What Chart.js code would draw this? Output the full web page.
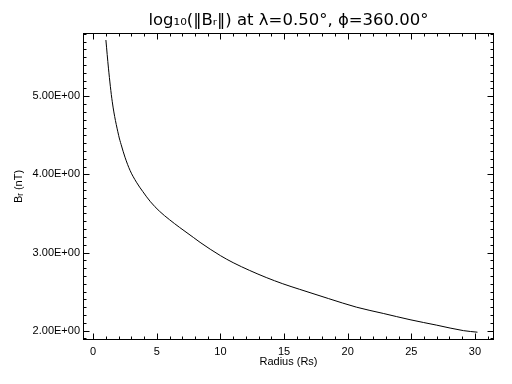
<!DOCTYPE html>
<html><head><meta charset="utf-8">
<script src="https://cdn.jsdelivr.net/npm/chart.js@4/dist/chart.umd.min.js"></script>
<style>html,body{margin:0;padding:0;background:#fff}#wrap{width:512px;height:384px}</style>
</head><body><div id="wrap"><canvas id="c" width="512" height="384"></canvas></div>
<script>
const radius = [1.0, 1.2, 1.5, 2.0, 2.2, 2.5, 2.9, 3.4, 3.9, 4.5, 5.2, 6.0, 6.8, 7.9, 8.4, 10.0, 11.0, 12.3, 13.6, 14.9, 16.2, 18.5, 20.7, 22.8, 24.9, 27.0, 29.1, 30.2];
const logBr = [5.72, 5.36, 4.93, 4.50, 4.38, 4.22, 4.05, 3.90, 3.78, 3.65, 3.53, 3.42, 3.32, 3.19, 3.13, 2.96, 2.87, 2.77, 2.68, 2.60, 2.53, 2.41, 2.30, 2.22, 2.14, 2.07, 2.00, 1.98];
const xTickValues = [0, 5, 10, 15, 20, 25, 30];
const xTickLabels = ["0", "5", "10", "15", "20", "25", "30"];
const yTickValues = [2, 3, 4, 5];
const yTickLabels = ["2.00E+00", "3.00E+00", "4.00E+00", "5.00E+00"];
const titleText = "log\u2081\u2080(\u2016B\u1D63\u2016) at \u03BB=0.50\u00B0, \u03D5=360.00\u00B0";
const xTitle = "Radius (Rs)";
const yTitle = "B\u1D63 (nT)";

const points = radius.map((r, i) => ({x: r, y: logBr[i]}));

const framePlugin = {
  id: 'frameTicks',
  afterDraw(chart) {
    const ctx = chart.ctx;
    const ca = chart.chartArea;
    const L = Math.round(ca.left) + 0.5, R = Math.round(ca.right) - 0.5;
    const T = Math.round(ca.top) + 0.5, B = Math.round(ca.bottom) - 0.5;
    ctx.save();
    ctx.strokeStyle = '#000';
    ctx.lineWidth = 1;
    ctx.strokeRect(L, T, R - L, B - T);
    const xs = chart.scales.x, ys = chart.scales.y;
    ctx.beginPath();
    for (let v = 0; v <= 31; v++) {
      const len = xTickValues.includes(v) ? 6 : 3;
      const p = Math.round(xs.getPixelForValue(v)) + 0.5;
      ctx.moveTo(p, B); ctx.lineTo(p, B - len);
      ctx.moveTo(p, T); ctx.lineTo(p, T + len);
    }
    for (let k = 19; k <= 58; k++) {
      const v = k / 10;
      const len = (k % 10 === 0) ? 6 : 3;
      const p = Math.round(ys.getPixelForValue(v)) + 0.5;
      ctx.moveTo(L, p); ctx.lineTo(L + len, p);
      ctx.moveTo(R, p); ctx.lineTo(R - len, p);
    }
    ctx.stroke();
    ctx.restore();
  }
};

new Chart(document.getElementById('c'), {
  type: 'line',
  data: {
    datasets: [{
      data: points,
      borderColor: '#000',
      borderWidth: 1,
      pointRadius: 0,
      fill: false,
      cubicInterpolationMode: 'monotone',
      xAxisID: 'x',
      yAxisID: 'y'
    }]
  },
  options: {
    responsive: false,
    animation: false,
    layout: {padding: {left: 0, right: 18, top: 0, bottom: 0}},
    plugins: {
      legend: {display: false},
      tooltip: {enabled: false},
      title: {display: false}
    },
    scales: {
      x: {
        type: 'linear',
        position: 'bottom',
        min: -0.8, max: 31.5,
        grid: {display: false, drawTicks: false},
        border: {display: false},
        afterBuildTicks: s => { s.ticks = xTickValues.map(v => ({value: v})); },
        afterFit: s => { s.height = 44; },
        ticks: {
          color: '#000',
          padding: 5,
          maxRotation: 0,
          font: {family: 'Liberation Sans', size: 11},
          callback: v => xTickLabels[xTickValues.indexOf(v)]
        },
        title: {
          display: true, text: xTitle, color: '#000',
          font: {family: 'Liberation Sans', size: 11},
          padding: {top: 0, bottom: 15}
        }
      },
      xTop: {
        type: 'linear',
        position: 'top',
        min: -0.8, max: 31.5,
        grid: {display: false, drawTicks: false},
        border: {display: false},
        ticks: {display: false},
        afterFit: s => { s.height = 33; },
        title: {
          display: true, text: titleText, color: '#000',
          font: {family: 'DejaVu Sans', size: 16.5, weight: 'normal'},
          padding: {top: 11, bottom: 0}
        }
      },
      y: {
        type: 'linear',
        min: 1.88, max: 5.81,
        grid: {display: false, drawTicks: false},
        border: {display: false},
        afterBuildTicks: s => { s.ticks = yTickValues.map(v => ({value: v})); },
        afterFit: s => { s.width = 83; },
        ticks: {
          color: '#000',
          padding: 3,
          font: {family: 'Liberation Sans', size: 11},
          callback: v => yTickLabels[yTickValues.indexOf(v)]
        },
        title: {
          display: true, text: yTitle, color: '#000',
          font: {family: 'Liberation Sans', size: 11},
          padding: {top: 12, bottom: 0}
        }
      }
    }
  },
  plugins: [framePlugin]
});
</script>
</body></html>
